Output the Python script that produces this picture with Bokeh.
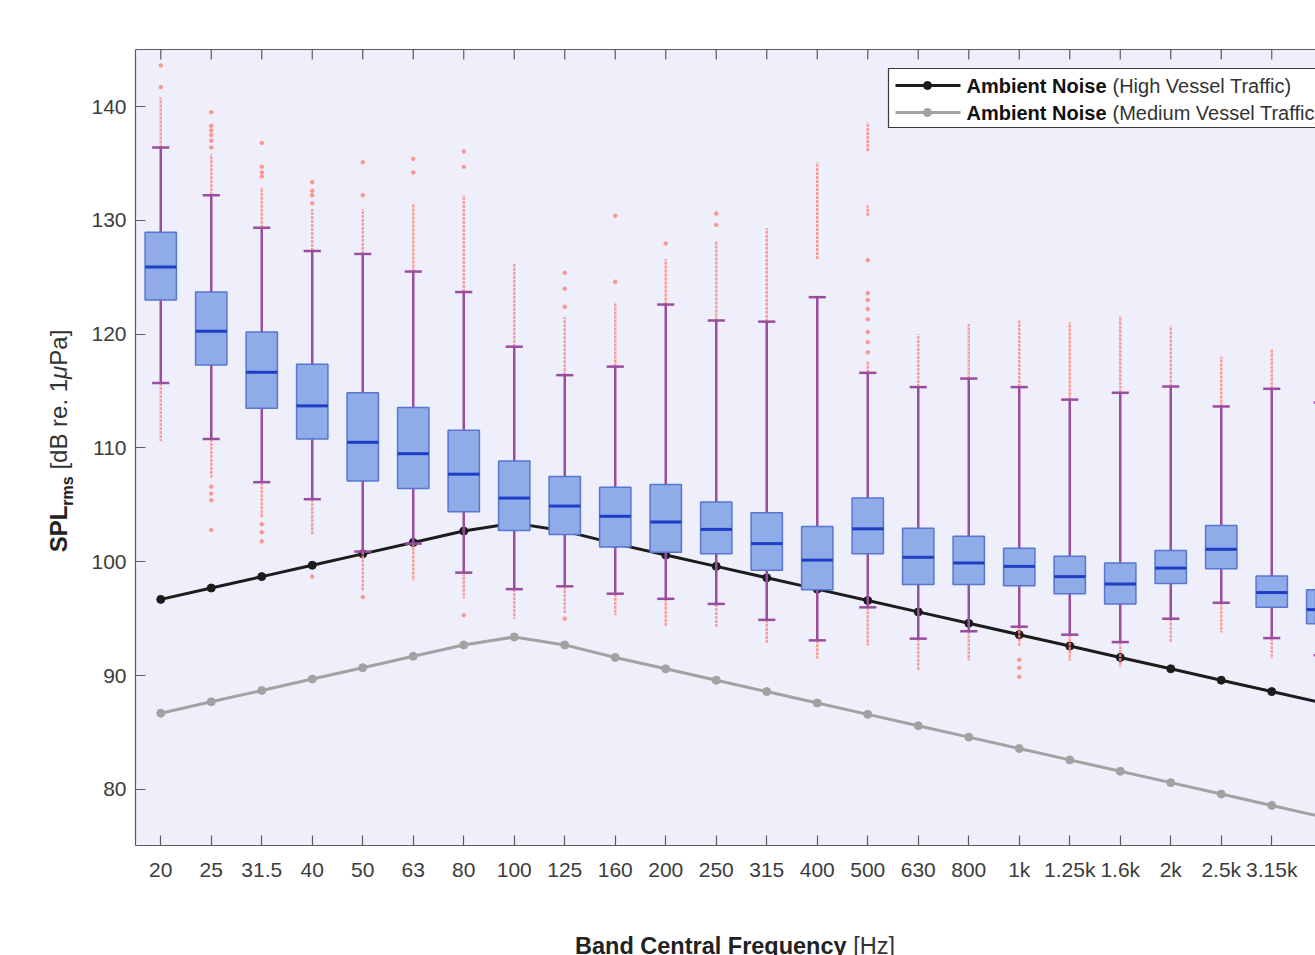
import numpy as np
from bokeh.plotting import figure
from bokeh.models import Range1d, FixedTicker, LinearAxis, Label, Div
from bokeh.layouts import row, column
from bokeh.embed import file_html
from bokeh.resources import INLINE

# ---------------- data ----------------
bands = ["20", "25", "31.5", "40", "50", "63", "80", "100", "125", "160", "200", "250",
         "315", "400", "500", "630", "800", "1k", "1.25k", "1.6k", "2k", "2.5k", "3.15k", "4k"]

q1 = [123.0, 117.3, 113.5, 110.8, 107.1, 106.45, 104.4, 102.75, 102.4, 101.3, 100.85, 100.7,
      99.25, 97.55, 100.7, 98.0, 98.0, 97.9, 97.2, 96.3, 98.1, 99.4, 96.0, 94.55]
med = [125.9, 120.25, 116.65, 113.7, 110.5, 109.5, 107.7, 105.6, 104.9, 104.0, 103.5, 102.85,
       101.6, 100.15, 102.9, 100.4, 99.9, 99.6, 98.7, 98.05, 99.45, 101.1, 97.3, 95.8]
q3 = [128.95, 123.7, 120.2, 117.35, 114.85, 113.55, 111.55, 108.85, 107.5, 106.55, 106.8, 105.25,
      104.3, 103.1, 105.6, 102.95, 102.25, 101.2, 100.5, 99.9, 101.0, 103.2, 98.75, 97.55]
whisker_low = [115.7, 110.8, 107.0, 105.5, 100.9, 101.6, 99.05, 97.6, 97.85, 97.2, 96.75, 96.3,
               94.9, 93.1, 96.0, 93.25, 93.9, 94.3, 93.6, 92.95, 95.0, 96.4, 93.3, 91.8]
whisker_high = [136.4, 132.2, 129.35, 127.3, 127.05, 125.5, 123.7, 118.9, 116.4, 117.15, 122.6, 121.2,
                121.1, 123.25, 116.6, 115.35, 116.1, 115.35, 114.25, 114.85, 115.4, 113.65, 115.2, 114.0]

# dense runs of outliers (upper run start/end, lower run end)
out_up_start = [136.4, 132.2, 129.35, 127.3, 127.05, 125.5, 123.7, 118.9, 116.4, 117.15, 122.6, 121.2,
                121.1, 126.6, 116.6, 115.35, 116.1, 115.35, 114.25, 114.85, 115.4, 113.65, 115.2, 114.0]
out_up_end = [140.8, 135.8, 132.9, 131.0, 131.0, 131.5, 132.2, 126.2, 121.5, 122.8, 126.6, 128.2,
              129.3, 135.1, 117.6, 120.0, 120.9, 121.2, 121.05, 121.6, 120.75, 118.0, 118.7, 117.5]
out_low_end = [110.6, 107.4, 103.9, 102.4, 97.5, 98.35, 96.8, 95.0, 95.5, 95.3, 94.3, 94.3,
               92.9, 91.5, 92.65, 90.4, 91.3, 92.6, 91.3, 90.75, 92.95, 93.8, 91.5, 90.5]

# extra detached clusters of outliers
cluster_band = ["500", "500"]
cluster_low = [136.1, 130.4]
cluster_high = [138.6, 131.3]

# isolated outliers
single_band = ["20", "20",
               "25", "25", "25", "25", "25", "25", "25", "25", "25", "25",
               "31.5", "31.5", "31.5", "31.5", "31.5", "31.5", "31.5",
               "40", "40", "40", "40", "40",
               "50", "50", "50",
               "63", "63",
               "80", "80", "80",
               "125", "125", "125", "125",
               "160", "160",
               "200",
               "250", "250",
               "500", "500", "500", "500", "500", "500", "500", "500",
               "1k", "1k", "1k"]
single_value = [141.7, 143.6,
                136.4, 137.0, 137.5, 137.9, 138.3, 139.5, 106.6, 106.0, 105.4, 102.8,
                133.85, 134.2, 134.7, 136.8, 103.3, 102.6, 101.8,
                131.5, 132.2, 132.6, 133.35, 98.7,
                132.2, 135.1, 96.9,
                134.2, 135.4,
                134.7, 136.05, 95.3,
                122.4, 124.0, 125.4, 95.0,
                124.6, 130.4,
                127.96,
                129.6, 130.6,
                126.5, 123.6, 123.0, 122.2, 121.3, 120.2, 119.3, 118.4,
                91.4, 90.7, 89.9]

ambient_high = [96.7, 97.7, 98.7, 99.7, 100.7, 101.7, 102.7, 103.4, 102.7, 101.6, 100.6, 99.6,
                98.6, 97.6, 96.6, 95.6, 94.6, 93.6, 92.6, 91.6, 90.6, 89.6, 88.6, 87.6]
ambient_medium = [86.7, 87.7, 88.7, 89.7, 90.7, 91.7, 92.7, 93.4, 92.7, 91.6, 90.6, 89.6,
                  88.6, 87.6, 86.6, 85.6, 84.6, 83.6, 82.6, 81.6, 80.6, 79.6, 78.6, 77.6]

y_ticks = [80, 90, 100, 110, 120, 130, 140]

# ---------------- layout helpers (page pixels) ----------------
PAGE_W = 1315
YLAB_W = 80                 # width of the column holding the y label
FIG_W = PAGE_W - YLAB_W
FIG_H = 930
XLAB_H = 25
FL, FT, FB = 135, 49, 845   # frame left / top / bottom in page pixels
PX_PER_BAND = 50.5
PX_PER_DB = 11.383
x_start = -0.5
x_end = x_start + (PAGE_W - FL) / PX_PER_BAND
y_top = 140 + (106 - FT) / PX_PER_DB
y_bot = y_top - (FB - FT) / PX_PER_DB


def px2x(px):
    return x_start + (px - FL) / PX_PER_BAND


def px2y(py):
    return y_top - (py - FT) / PX_PER_DB


FONT = "Liberation Sans"
idx = np.arange(len(bands), dtype=float)
BOX_W = 0.62
CAP_W = 0.34
AXC = "#5c5c5c"

p = figure(width=FIG_W, height=FIG_H, x_range=Range1d(x_start, x_end),
           y_range=Range1d(y_bot, y_top),
           output_backend="svg", toolbar_location=None,
           min_border_left=FL - YLAB_W, min_border_right=0, min_border_top=FT,
           min_border_bottom=FIG_H - FB, margin=0,
           background_fill_color="#eeeffb", border_fill_color="white", outline_line_color=None)
p.xgrid.visible = False
p.ygrid.visible = False

bottom_axis = p.below[0]
left_axis = p.left[0]
bottom_axis.ticker = FixedTicker(ticks=list(range(len(bands))))
bottom_axis.major_label_overrides = {i: b for i, b in enumerate(bands)}
left_axis.ticker = FixedTicker(ticks=y_ticks)

top_axis = LinearAxis(ticker=FixedTicker(ticks=[]))
p.add_layout(top_axis, "above")

for ax in [bottom_axis, left_axis, top_axis]:
    ax.axis_line_color = AXC
    ax.axis_line_width = 1.2
    ax.major_tick_line_color = AXC
    ax.major_tick_line_width = 1.2
    ax.major_tick_in = 10
    ax.major_tick_out = 0
    ax.minor_tick_line_color = None
    ax.major_label_text_font = FONT
    ax.major_label_text_font_size = "21px"
    ax.major_label_text_color = "#3c3c3c"
bottom_axis.major_label_standoff = 12
left_axis.major_label_standoff = 9

# inward ticks along the top edge
p.segment(x0=idx, y0=[y_top] * len(idx), x1=idx, y1=[y_top - 10 / PX_PER_DB] * len(idx),
          line_color=AXC, line_width=1.2)

# ambient noise lines (under the boxes)
p.line(idx, ambient_medium, line_color="#a2a2a2", line_width=3)
p.scatter(idx, ambient_medium, size=8, fill_color="#a2a2a2", line_color="#a2a2a2")
p.line(idx, ambient_high, line_color="#1c1c1c", line_width=3)
p.scatter(idx, ambient_high, size=8, fill_color="#1c1c1c", line_color="#1c1c1c")

# outliers
OUT = "#ff8c86"
p.segment(x0=idx, y0=out_up_start, x1=idx, y1=out_up_end, line_color=OUT, line_width=2.5,
          line_dash="3 1", line_alpha=0.85)
p.segment(x0=idx, y0=whisker_low, x1=idx, y1=out_low_end, line_color=OUT, line_width=2.5,
          line_dash="3 1", line_alpha=0.85)
cx = [bands.index(b) for b in cluster_band]
p.segment(x0=cx, y0=cluster_low, x1=cx, y1=cluster_high, line_color=OUT, line_width=2.5,
          line_dash="3 1", line_alpha=0.9)
sx = [bands.index(b) for b in single_band]
p.scatter(sx, single_value, size=3.5, fill_color=OUT, line_color=OUT, alpha=0.9)

# whiskers and caps
WH = "#9a4c9e"
p.segment(x0=idx, y0=whisker_low, x1=idx, y1=whisker_high, line_color=WH, line_width=2.5)
p.segment(x0=idx - CAP_W / 2, y0=whisker_high, x1=idx + CAP_W / 2, y1=whisker_high,
          line_color=WH, line_width=2.5)
p.segment(x0=idx - CAP_W / 2, y0=whisker_low, x1=idx + CAP_W / 2, y1=whisker_low,
          line_color=WH, line_width=2.5)

# boxes and medians
p.vbar(x=idx, width=BOX_W, bottom=q1, top=q3, fill_color="#8fabe8", line_color="#5677cf",
       line_width=1.5)
p.segment(x0=idx - BOX_W / 2, y0=med, x1=idx + BOX_W / 2, y1=med, line_color="#1e3ec4",
          line_width=3)

# legend (drawn by hand: mixed bold / normal text)
p.quad(left=[px2x(888)], right=[x_end + 2], top=[px2y(68)], bottom=[px2y(127)],
       fill_color="white", line_color="#3a3a3a", line_width=1.2)
legend_rows = [("(High Vessel Traffic)", "#1c1c1c", 85),
               ("(Medium Vessel Traffic)", "#a2a2a2", 112)]
for txt, col, ypx in legend_rows:
    yy = px2y(ypx)
    p.line([px2x(895), px2x(960)], [yy, yy], line_color=col, line_width=3)
    p.scatter([px2x(927)], [yy], size=8, fill_color=col, line_color=col)
    p.add_layout(Label(x=px2x(966), y=yy, text="Ambient Noise", text_font=FONT,
                       text_font_size="20px", text_font_style="bold", text_color="#111111",
                       text_baseline="middle"))
    p.add_layout(Label(x=px2x(1112), y=yy, text=txt, text_font=FONT,
                       text_font_size="20px", text_color="#333333", text_baseline="middle"))

# y axis label: rotated HTML text (bold SPL with subscript, italic mu)
ylab_html = (
    f'<div style="position:relative;width:{YLAB_W}px;height:{FIG_H}px;">'
    '<div style="position:absolute;left:59px;top:441px;transform:translate(-50%,-50%) rotate(-90deg);'
    f'white-space:nowrap;font-family:\'{FONT}\';font-size:24px;line-height:1;color:#333333;">'
    '<span style="font-weight:bold;color:#222222;">SPL<span style="font-size:16px;'
    'position:relative;top:6px;">rms</span></span> [dB re. 1<i>\u03bc</i>Pa]'
    '</div></div>'
)
ydiv = Div(text=ylab_html, width=YLAB_W, height=FIG_H, margin=0)

# x axis label below the figure
xlab_html = (
    f'<div style="position:relative;width:{PAGE_W}px;height:{XLAB_H}px;">'
    '<div style="position:absolute;left:575px;top:5px;white-space:nowrap;'
    f'font-family:\'{FONT}\';font-size:23.5px;line-height:1;color:#333333;">'
    '<b style="color:#222222;">Band Central Frequency</b> [Hz]</div></div>'
)
xdiv = Div(text=xlab_html, width=PAGE_W, height=XLAB_H, margin=0)

layout = column(row(ydiv, p, spacing=0, margin=0), xdiv, spacing=0, margin=0)

open("out.html", "w").write(file_html(layout, INLINE))
